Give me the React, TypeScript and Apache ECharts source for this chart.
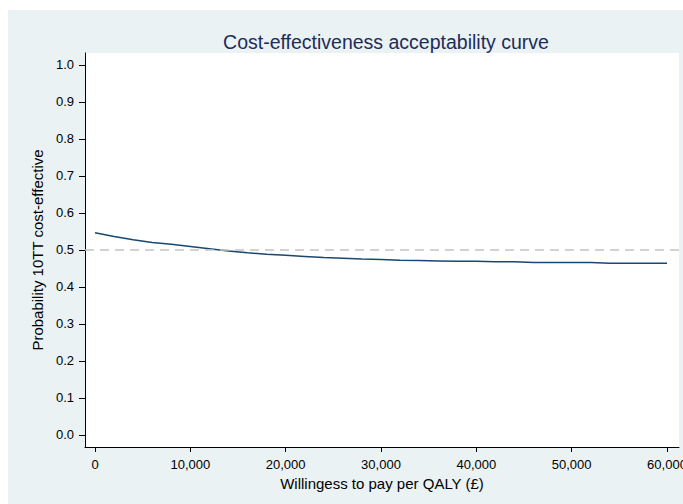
import React, { useEffect, useRef } from "react";
import * as echarts from "echarts";

const wtp = [0, 2000, 4000, 6000, 8000, 10000, 12000, 14000, 16000, 18000, 20000, 22000, 24000, 26000, 28000, 30000, 32000, 34000, 36000, 38000, 40000, 42000, 44000, 46000, 48000, 50000, 52000, 54000, 56000, 58000, 60000];
const prob = [0.546, 0.536, 0.527, 0.520, 0.515, 0.509, 0.503, 0.497, 0.492, 0.488, 0.485, 0.482, 0.479, 0.477, 0.475, 0.474, 0.472, 0.471, 0.470, 0.469, 0.469, 0.468, 0.468, 0.466, 0.466, 0.466, 0.466, 0.464, 0.464, 0.464, 0.464];
const xTicks = [0, 10000, 20000, 30000, 40000, 50000, 60000];
const yTicks = [0, 0.1, 0.2, 0.3, 0.4, 0.5, 0.6, 0.7, 0.8, 0.9, 1.0];
const threshold = 0.5;

const FONT = "'Liberation Sans', Arial, Helvetica, sans-serif";

export default function App() {
  const ref = useRef<HTMLDivElement>(null);
  useEffect(() => {
    if (!ref.current) return;
    const chart = echarts.init(ref.current, null, { renderer: "svg" });
    chart.setOption({
      animation: false,
      backgroundColor: "#eaf2f3",
      textStyle: { fontFamily: FONT },
      title: {
        text: "Cost-effectiveness acceptability curve",
        left: 373,
        top: 17,
        textAlign: "center",
        textStyle: { fontFamily: FONT, fontSize: 19.5, fontWeight: "normal", color: "#1e2c5a" },
      },
      grid: {
        left: 77,
        right: 4,
        top: 43,
        bottom: 57,
        show: true,
        backgroundColor: "#ffffff",
        borderWidth: 0,
        containLabel: false,
        outerBoundsMode: "none",
      },
      xAxis: {
        type: "value",
        min: -1050,
        max: 61260,
        name: "Willingess to pay per QALY (£)",
        nameLocation: "middle",
        nameGap: 21,
        nameTextStyle: { fontFamily: FONT, fontSize: 15, color: "#000" },
        axisLine: { show: true, onZero: false, lineStyle: { color: "#000", width: 1 } },
        axisTick: { show: true, length: 5, customValues: xTicks, lineStyle: { color: "#000" } },
        axisLabel: {
          customValues: xTicks,
          margin: 11,
          fontFamily: FONT,
          fontSize: 13,
          color: "#000",
          hideOverlap: false,
          formatter: (v: number) => v.toLocaleString("en-US"),
        },
        splitLine: { show: false },
      },
      yAxis: {
        type: "value",
        min: -0.033,
        max: 1.032,
        name: "Probability 10TT cost-effective",
        nameLocation: "middle",
        nameGap: 38,
        nameRotate: 90,
        nameTextStyle: { fontFamily: FONT, fontSize: 15, color: "#000" },
        axisLine: { show: true, onZero: false, lineStyle: { color: "#000", width: 1 } },
        axisTick: { show: true, length: 6, customValues: yTicks, lineStyle: { color: "#000" } },
        axisLabel: {
          customValues: yTicks,
          margin: 11,
          fontFamily: FONT,
          fontSize: 13,
          color: "#000",
          formatter: (v: number) => v.toFixed(1),
        },
        splitLine: { show: false },
      },
      series: [
        {
          type: "line",
          data: wtp.map((x, i) => [x, prob[i]]),
          symbol: "none",
          lineStyle: { color: "#1a476f", width: 1.5 },
          itemStyle: { color: "#1a476f" },
          markLine: {
            silent: true,
            symbol: "none",
            label: { show: false },
            lineStyle: { color: "#c4c4c4", type: [9, 6], width: 1.5 },
            data: [{ yAxis: threshold }],
          },
        },
      ],
    });
    return () => chart.dispose();
  }, []);
  return (
    <div
      ref={ref}
      style={{ position: "absolute", left: 8, top: 10, width: 675, height: 494 }}
    />
  );
}
